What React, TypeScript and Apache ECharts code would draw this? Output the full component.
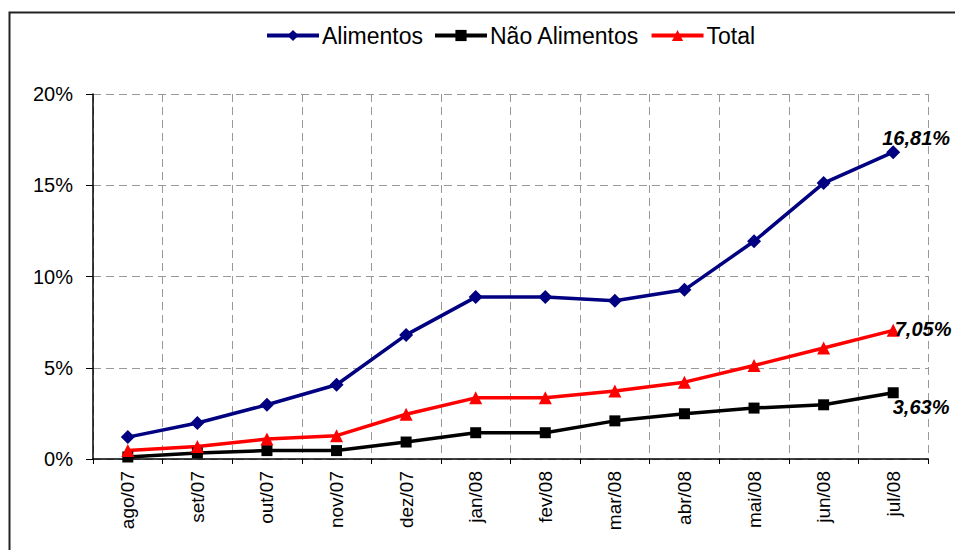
import React, { useEffect, useRef } from "react";
import * as echarts from "echarts";

const categories = ["ago/07", "set/07", "out/07", "nov/07", "dez/07", "jan/08", "fev/08", "mar/08", "abr/08", "mai/08", "jun/08", "jul/08"];
const alimentos = [1.2, 1.97, 2.97, 4.07, 6.8, 8.87, 8.87, 8.67, 9.27, 11.93, 15.12, 16.81];
const naoAlimentos = [0.11, 0.33, 0.46, 0.46, 0.93, 1.44, 1.44, 2.09, 2.48, 2.79, 2.97, 3.63];
const total = [0.47, 0.69, 1.09, 1.28, 2.45, 3.35, 3.35, 3.72, 4.21, 5.12, 6.08, 7.05];
const yTicks = [0, 5, 10, 15, 20];

const FONT = "'Liberation Sans', Arial, sans-serif";

function withLastLabel(values: number[], offset: number[]) {
  return values.map((v, i) =>
    i === values.length - 1
      ? {
          value: v,
          label: {
            show: true,
            position: "right",
            distance: 0,
            offset,
            formatter: (p: any) => p.value.toFixed(2).replace(".", ",") + "%",
            fontFamily: FONT,
            fontSize: 20,
            fontWeight: "bold",
            fontStyle: "italic",
            color: "#000",
          },
        }
      : v
  );
}

export default function App() {
  const ref = useRef<HTMLDivElement>(null);
  useEffect(() => {
    if (!ref.current) return;
    const chart = echarts.init(ref.current, undefined, { renderer: "svg" });
    chart.setOption({
      animation: false,
      backgroundColor: "#fff",
      textStyle: { fontFamily: FONT },
      graphic: [
        {
          type: "rect",
          left: 7,
          top: 10,
          shape: { x: 0, y: 0, width: 1000, height: 600 },
          style: { fill: "none", stroke: "#222", lineWidth: 2 },
          silent: true,
        },
      ],
      legend: {
        left: 260,
        top: 19,
        itemWidth: 52,
        itemHeight: 14,
        itemGap: 10,
        lineStyle: { width: 4 },
        textStyle: { fontFamily: FONT, fontSize: 23, color: "#000", padding: [0, 0, 0, -2] },
        data: ["Alimentos", "Não Alimentos", "Total"],
      },
      grid: { left: 93, right: 27, top: 94, bottom: 91 },
      xAxis: {
        type: "category",
        data: categories,
        boundaryGap: true,
        axisLine: { lineStyle: { color: "#000", width: 1.5 } },
        axisTick: { show: true, inside: false, length: 5, lineStyle: { color: "#000" } },
        axisLabel: { rotate: 90, fontSize: 19, color: "#000", fontFamily: FONT, margin: 12 },
        splitLine: { show: true, lineStyle: { color: "#999", type: [8, 5], width: 1 } },
      },
      yAxis: {
        type: "value",
        min: 0,
        max: 20,
        interval: 5,
        axisLine: { show: true, lineStyle: { color: "#000", width: 1.5 } },
        axisTick: { show: true, inside: false, length: 7, lineStyle: { color: "#000" } },
        axisLabel: {
          fontSize: 20,
          color: "#000",
          fontFamily: FONT,
          margin: 20,
          formatter: (v: number) => (yTicks.includes(v) ? v + "%" : ""),
        },
        splitLine: { show: true, lineStyle: { color: "#999", type: [8, 5], width: 1 } },
      },
      series: [
        {
          name: "Alimentos",
          type: "line",
          data: withLastLabel(alimentos, [-18, -14]),
          symbol: "diamond",
          symbolSize: 14,
          color: "#000080",
          lineStyle: { width: 3.5, color: "#000080" },
          itemStyle: { color: "#000080" },
        },
        {
          name: "Não Alimentos",
          type: "line",
          data: withLastLabel(naoAlimentos, [-6, 14]),
          symbol: "rect",
          symbolSize: 11,
          color: "#000",
          lineStyle: { width: 3.5, color: "#000" },
          itemStyle: { color: "#000" },
        },
        {
          name: "Total",
          type: "line",
          data: withLastLabel(total, [-5, -1]),
          symbol: "triangle",
          symbolSize: 13,
          color: "#ff0000",
          lineStyle: { width: 3.5, color: "#ff0000" },
          itemStyle: { color: "#ff0000" },
        },
      ],
    });
    return () => chart.dispose();
  }, []);
  return (
    <div
      ref={ref}
      style={{ position: "fixed", left: 0, top: 0, width: 955, height: 550 }}
    />
  );
}
